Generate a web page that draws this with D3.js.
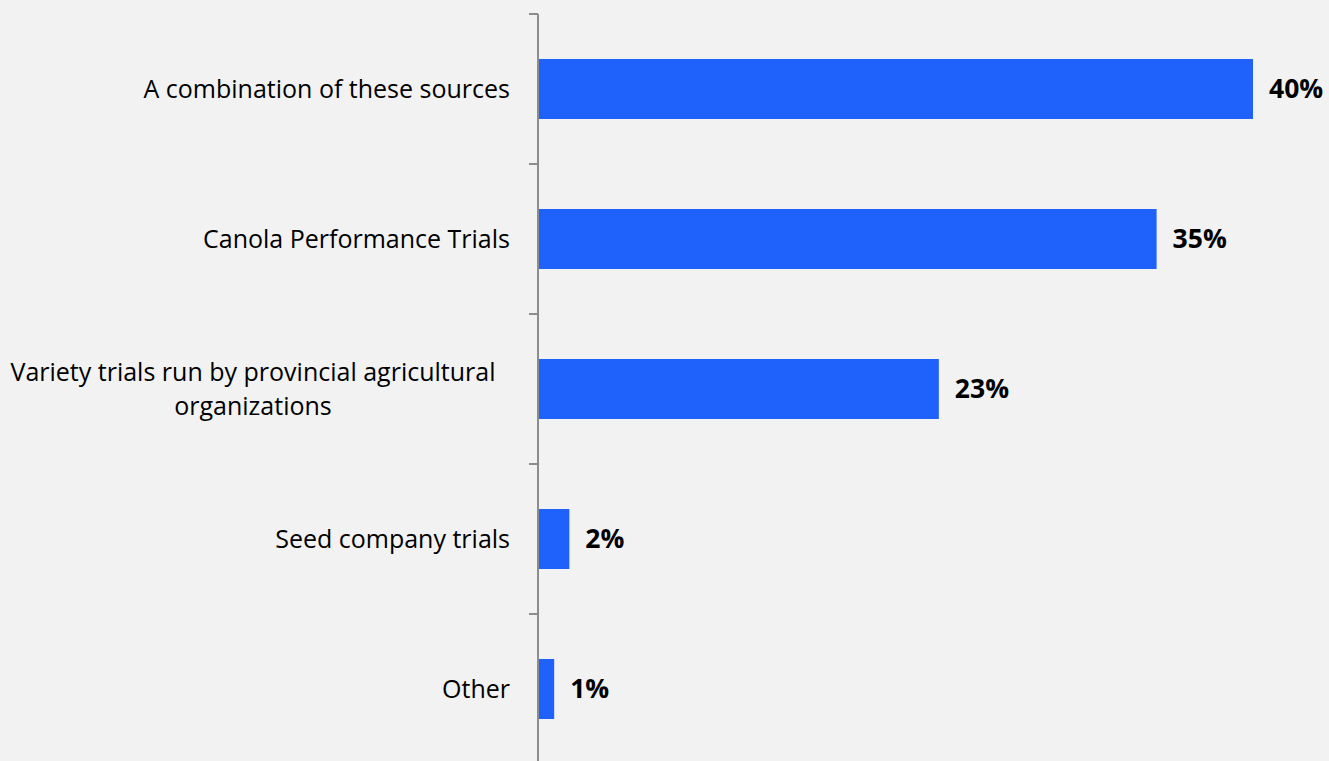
<!DOCTYPE html>
<html><head><meta charset="utf-8">
<script src="https://cdn.jsdelivr.net/npm/d3@7"></script>
<style>html,body{margin:0;padding:0;background:#f2f2f2;}svg{display:block;}</style>
</head><body>
<svg id="chart" width="1329" height="761"></svg>
<script>
const categories = ["A combination of these sources", "Canola Performance Trials", "Variety trials run by provincial agricultural|organizations", "Seed company trials", "Other"];
const values = [40, 34.6, 22.4, 1.7, 0.85];
const valueLabels = ["40%", "35%", "23%", "2%", "1%"];

const svg = d3.select("#chart");
const W = 1329, H = 761;
svg.append("rect").attr("width", W).attr("height", H).attr("fill", "#f2f2f2");

const x = d3.scaleLinear().domain([0, 40]).range([539, 1253]);
const y = d3.scaleBand().domain(categories).range([14, 764]).paddingInner(0.6).paddingOuter(0.3);

const font = "'Open Sans', sans-serif";

// bars
svg.selectAll("rect.bar").data(categories).enter().append("rect")
  .attr("class", "bar")
  .attr("x", x(0))
  .attr("y", d => y(d))
  .attr("width", (d, i) => x(values[i]) - x(0))
  .attr("height", y.bandwidth())
  .attr("fill", "#1f62fb");

// axis
const yAxis = d3.axisLeft(y).tickSize(0).tickFormat("");
const ag = svg.append("g").attr("transform", "translate(538,0)").call(yAxis);
ag.select(".domain").remove();
ag.append("line").attr("x1", 0).attr("x2", 0).attr("y1", 14).attr("y2", 764).attr("stroke", "#8c8c8c").attr("stroke-width", 2);
const step = y.step();
const bounds = categories.map((d, i) => 14 + i * step);
ag.selectAll("line.tk").data(bounds).enter().append("line")
  .attr("class", "tk").attr("x1", -9).attr("x2", 0).attr("y1", d => d).attr("y2", d => d)
  .attr("stroke", "#8c8c8c").attr("stroke-width", 2);

// category labels
categories.forEach((c, i) => {
  const lines = c.split("|");
  const cy = y(c) + y.bandwidth() / 2;
  const lh = 34;
  const t = svg.append("text").attr("font-family", font).attr("font-size", 25).attr("fill", "#000")
    .attr("text-anchor", lines.length > 1 ? "middle" : "end");
  const tx = lines.length > 1 ? 253 : 510;
  lines.forEach((ln, j) => {
    t.append("tspan").attr("x", tx)
      .attr("y", cy + (j - (lines.length - 1) / 2) * lh)
      .attr("dy", "0.35em").text(ln);
  });
});

// value labels
svg.selectAll("text.val").data(categories).enter().append("text")
  .attr("class", "val")
  .attr("x", (d, i) => x(values[i]) + 16)
  .attr("y", d => y(d) + y.bandwidth() / 2)
  .attr("dy", "0.35em")
  .attr("font-family", font).attr("font-size", 26.5).attr("font-weight", "bold").attr("fill", "#000")
  .text((d, i) => valueLabels[i]);
</script>
</body></html>
